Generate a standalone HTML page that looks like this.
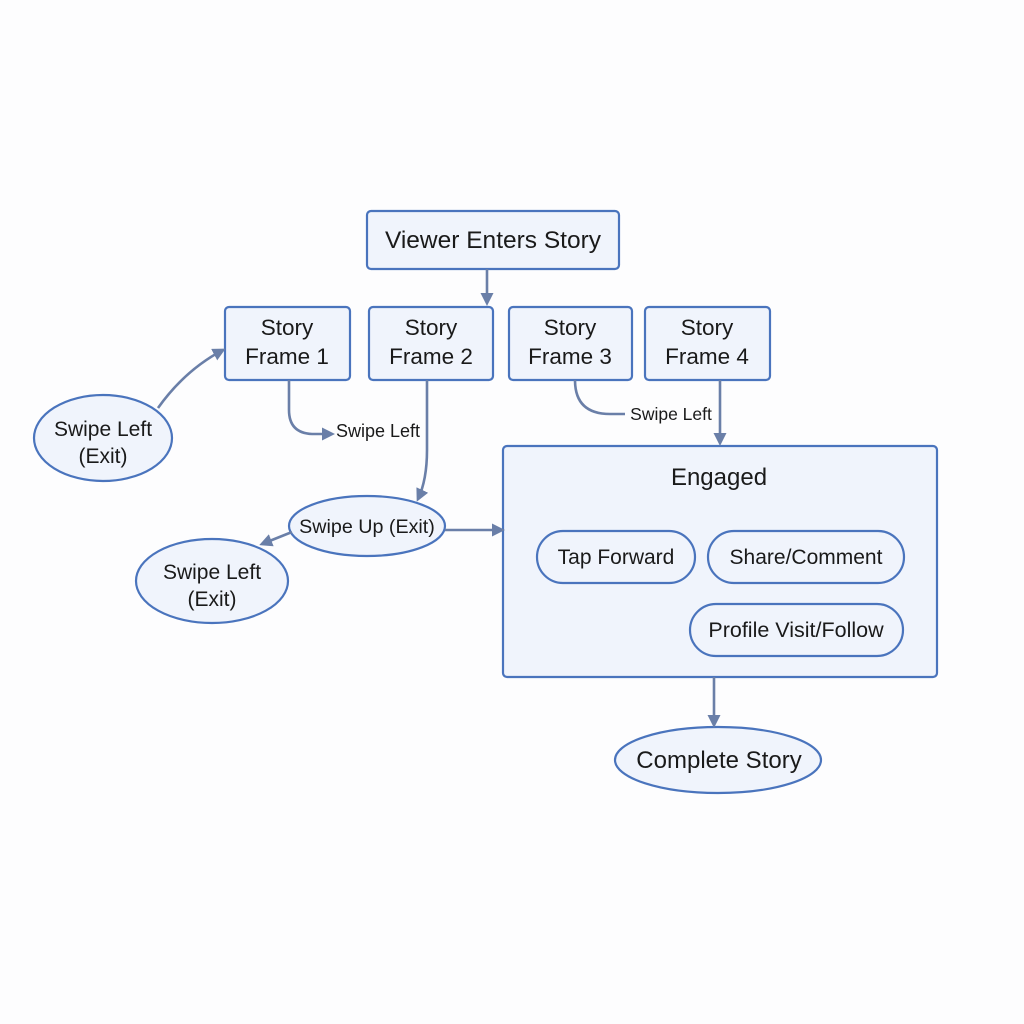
<!DOCTYPE html>
<html><head><meta charset="utf-8"><style>
html,body{margin:0;padding:0;background:#fdfdfe;}
svg{display:block;font-family:"Liberation Sans",sans-serif;}
</style></head><body>
<svg width="1024" height="1024" viewBox="0 0 1024 1024">
<defs>
<marker id="a" markerWidth="13" markerHeight="13" refX="10" refY="6.5" orient="auto" markerUnits="userSpaceOnUse">
<path d="M0,0 L13,6.5 L0,13 z" fill="#6a7fa8"/></marker>
</defs>
<rect width="1024" height="1024" fill="#fdfdfe"/>
<g fill="#f0f4fc" stroke="#4a74bd" stroke-width="2.2">
<rect x="367" y="211" width="252" height="58" rx="4"/>
<rect x="225" y="307" width="125" height="73" rx="4"/>
<rect x="369" y="307" width="124" height="73" rx="4"/>
<rect x="509" y="307" width="123" height="73" rx="4"/>
<rect x="645" y="307" width="125" height="73" rx="4"/>
<rect x="503" y="446" width="434" height="231" rx="4"/>
<ellipse cx="103" cy="438" rx="69" ry="43"/>
<ellipse cx="212" cy="581" rx="76" ry="42"/>
<ellipse cx="367" cy="526" rx="78" ry="30"/>
<ellipse cx="718" cy="760" rx="103" ry="33"/>
<rect x="537" y="531" width="158" height="52" rx="26"/>
<rect x="708" y="531" width="196" height="52" rx="26"/>
<rect x="690" y="604" width="213" height="52" rx="26"/>
</g>
<g fill="none" stroke="#6a7fa8" stroke-width="2.6">
<path d="M487 269 L487 303" marker-end="url(#a)"/>
<path d="M158 408 Q185 370 223 350" marker-end="url(#a)"/>
<path d="M289 380 L289 410 Q289 433 312 434 L332 434" marker-end="url(#a)"/>
<path d="M427 380 L427 450 Q427 480 418 499" marker-end="url(#a)"/>
<path d="M575 380 Q575 414 610 414 L625 414"/>
<path d="M720 380 L720 443" marker-end="url(#a)"/>
<path d="M292 532 L262 544" marker-end="url(#a)"/>
<path d="M445 530 L502 530" marker-end="url(#a)"/>
<path d="M714 677 L714 725" marker-end="url(#a)"/>
</g>
<g fill="#1a1a1a" text-anchor="middle">
<text x="493" y="248" font-size="24.5">Viewer Enters Story</text>
<text x="287" y="335" font-size="22.5">Story</text><text x="287" y="364" font-size="22.5">Frame 1</text>
<text x="431" y="335" font-size="22.5">Story</text><text x="431" y="364" font-size="22.5">Frame 2</text>
<text x="570" y="335" font-size="22.5">Story</text><text x="570" y="364" font-size="22.5">Frame 3</text>
<text x="707" y="335" font-size="22.5">Story</text><text x="707" y="364" font-size="22.5">Frame 4</text>
<text x="103" y="436" font-size="21">Swipe Left</text><text x="103" y="463" font-size="21">(Exit)</text>
<text x="212" y="579" font-size="21">Swipe Left</text><text x="212" y="606" font-size="21">(Exit)</text>
<text x="367" y="533" font-size="19.7">Swipe Up (Exit)</text>
<text x="378" y="437" font-size="18">Swipe Left</text>
<text x="671" y="420" font-size="17.5">Swipe Left</text>
<text x="719" y="485" font-size="24">Engaged</text>
<text x="616" y="564" font-size="21">Tap Forward</text>
<text x="806" y="564" font-size="21">Share/Comment</text>
<text x="796" y="637" font-size="21.5">Profile Visit/Follow</text>
<text x="719" y="768" font-size="24">Complete Story</text>
</g>
</svg>
</body></html>
